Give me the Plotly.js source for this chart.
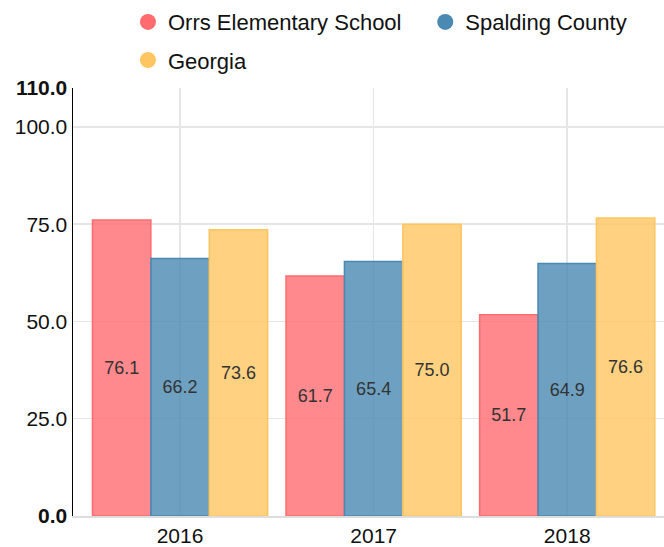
<!DOCTYPE html>
<html>
<head>
<meta charset="utf-8">
<script src="https://cdn.plot.ly/plotly-3.0.1.min.js"></script>
<style>html,body{margin:0;padding:0;background:#fff;}#chart{width:664px;height:547px;}</style>
</head>
<body>
<div id="chart"></div>
<script>
var years = ["2016", "2017", "2018"];
var seriesNames = ["Orrs Elementary School", "Spalding County", "Georgia"];
var orrsValues = [76.1, 61.7, 51.7];
var spaldingValues = [66.2, 65.4, 64.9];
var georgiaValues = [73.6, 75.0, 76.6];
var yTickValues = [0, 25, 50, 75, 100, 110];
var yTickLabels = ["<b>0.0</b>", "25.0", "50.0", "75.0", "100.0", "<b>110.0</b>"];

var lineColors = ["#FF6B6F", "#4A89B2", "#FFC561"];
var fillColors = ["rgba(255,107,111,0.8)", "rgba(74,137,178,0.8)", "rgba(255,197,97,0.8)"];
var allValues = [orrsValues, spaldingValues, georgiaValues];
var legendIds = ["legend", "legend2", "legend3"];

var traces = [];
allValues.forEach(function (vals, i) {
  traces.push({
    type: "bar",
    name: seriesNames[i],
    x: years,
    y: vals,
    showlegend: false,
    marker: {color: fillColors[i], line: {color: lineColors[i], width: 1.5}},
    texttemplate: "%{y:.1f}",
    textposition: "inside",
    insidetextanchor: "middle",
    textangle: 0,
    textfont: {family: "Liberation Sans, Arial, sans-serif", size: 18, color: "#333333"},
    hoverinfo: "x+y+name"
  });
});
seriesNames.forEach(function (n, i) {
  traces.push({
    type: "scatter",
    mode: "markers",
    name: n,
    x: [null],
    y: [null],
    legend: legendIds[i],
    marker: {color: lineColors[i], size: 16, symbol: "circle"},
    showlegend: true
  });
});

function legendAt(x, y) {
  return {
    orientation: "h",
    x: x,
    xanchor: "left",
    y: y,
    yanchor: "middle",
    font: {size: 22, color: "#111111"},
    itemsizing: "trace",
    bgcolor: "rgba(0,0,0,0)"
  };
}

var layout = {
  width: 664,
  height: 547,
  margin: {l: 73, r: 0, t: 88, b: 31},
  paper_bgcolor: "#ffffff",
  plot_bgcolor: "#ffffff",
  font: {family: "Liberation Sans, Arial, sans-serif", color: "#111111"},
  barmode: "group",
  bargap: 0.095,
  bargroupgap: 0,
  showlegend: true,
  legend: legendAt(0.093, 1.154),
  legend2: legendAt(0.596, 1.154),
  legend3: legendAt(0.093, 1.065),
  xaxis: {
    type: "category",
    range: [-0.553, 2.5],
    showgrid: true,
    gridcolor: "#e6e6e6",
    gridwidth: 1.5,
    showline: true,
    linecolor: "#dddddd",
    linewidth: 1.5,
    ticks: "",
    tickfont: {size: 21, color: "#111111"},
    zeroline: false,
    fixedrange: true
  },
  yaxis: {
    range: [0, 110],
    tickmode: "array",
    tickvals: yTickValues,
    ticktext: yTickLabels,
    showgrid: true,
    gridcolor: "#e6e6e6",
    gridwidth: 1.5,
    showline: true,
    linecolor: "#000000",
    linewidth: 1.5,
    zeroline: false,
    ticks: "",
    tickfont: {size: 21, color: "#111111"},
    fixedrange: true
  }
};

Plotly.newPlot("chart", traces, layout, {displayModeBar: false, staticPlot: true});
</script>
</body>
</html>
